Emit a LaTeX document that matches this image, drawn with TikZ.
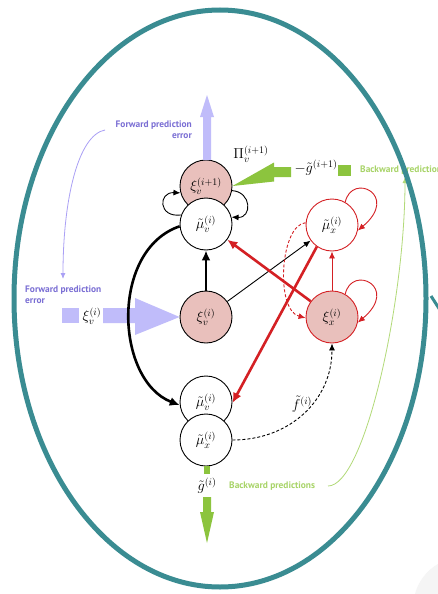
\documentclass[tikz,border=0pt]{standalone}
\usepackage{fontspec}
\newfontfamily\labfont{PT Sans}
\usetikzlibrary{arrows.meta}
\definecolor{myteal}{RGB}{58,140,146}
\definecolor{pinkc}{RGB}{233,192,188}
\definecolor{myred}{RGB}{212,32,36}
\definecolor{lav}{RGB}{192,188,250}
\definecolor{lavline}{RGB}{170,160,245}
\definecolor{purp}{RGB}{122,110,212}
\definecolor{grarrow}{RGB}{140,196,62}
\definecolor{grtext}{RGB}{168,212,104}
\definecolor{grline}{RGB}{178,218,120}
\begin{document}
\begin{tikzpicture}[x=1pt,y=-1pt,
  nd/.style={circle, draw, minimum size=52pt, inner sep=0pt, line width=0.9pt, font=\fontsize{14}{16}\selectfont},
  pinkb/.style={nd, fill=pinkc},
  whiteb/.style={nd, fill=white},
  redw/.style={nd, draw=myred, fill=white},
  redp/.style={nd, draw=myred, fill=pinkc},
  lab/.style={font=\labfont\bfseries\fontsize{9.4}{11}\selectfont, inner sep=0pt},
  mlab/.style={font=\fontsize{14}{16}\selectfont, inner sep=0pt},
  thinar/.style={-{Latex[length=7pt,width=6pt]}, line width=0.9pt},
  thickar/.style={-{Latex[length=10pt,width=9pt]}, line width=2.6pt}]
\useasboundingbox (0,0) rectangle (438,594);
\fill[white] (0,0) rectangle (438,594);
% nodes
\node[pinkb] (xv1) at (206,186) {$\xi_v^{(i+1)}$};
\node[whiteb] (mv) at (206,224) {$\tilde\mu_v^{(i)}$};
\node[redw] (mx) at (332,225) {$\tilde\mu_x^{(i)}$};
\node[pinkb] (xv) at (206,317) {$\xi_v^{(i)}$};
\node[redp] (xx) at (332,317) {$\xi_x^{(i)}$};
\node[whiteb] (mvb) at (206,402) {$\tilde\mu_v^{(i)}$};
\node[whiteb] (mxb) at (206,440) {$\tilde\mu_x^{(i)}$};
% lavender forward arrows
\fill[lav] (203,160) -- (203,117) -- (200,117) -- (207,95) -- (214,117) -- (211,117) -- (211,160) -- cycle;
\fill[lav] (62,308) rectangle (79,323);
\node[mlab] (lxv) at (92,316) {$\xi_v^{(i)}$};
\fill[lav] (103,308) -- (135,308) -- (135,298) -- (xv.west) -- (135,335) -- (135,323) -- (103,323) -- cycle;
\node[lab, text=purp, align=right, anchor=north east] (fpe1) at (192,121) {Forward prediction\\error};
\node[lab, text=purp, align=left, anchor=north west] (fpe2) at (25,286) {Forward prediction\\error};
\coordinate (fpa) at (105,130);
\coordinate (fpb) at (63,279);
\draw[lavline, line width=0.8pt, -{Latex[length=6pt,width=5pt]}] (fpa) .. controls (78,135) and (63,200) .. (fpb);
% green backward arrows
\fill[grarrow] (338,165) rectangle (351,176);
\node[mlab] (lg1) at (316,168) {$-\tilde g^{(i+1)}$};
\fill[grarrow] (291,167) -- (274,167) -- (274,162.5) -- (xv1.east) -- (274,181.5) -- (274,177) -- (291,177) -- cycle;
\node[mlab] (pi) at (251,154) {$\Pi_v^{(i+1)}$};
\node[lab, text=grtext, anchor=west] (bp1) at (360,170) {Backward prediction};
\fill[grarrow] (204,466) rectangle (210,474);
\node[mlab] (lg) at (207,486) {$\tilde g^{(i)}$};
\fill[grarrow] (203,497) -- (211,497) -- (211,512) -- (214,512) -- (207,543) -- (200,512) -- (203,512) -- cycle;
\node[lab, text=grtext, anchor=west] (bp2) at (229,486) {Backward predictions};
\coordinate (gla) at (328,486);
\coordinate (glb) at (405,177);
\draw[grline, line width=0.8pt, -{Latex[length=6pt,width=5pt]}] (gla) .. controls (365,486) and (405,300) .. (glb);
% black connections
\draw[thinar] (mv.160) .. controls (158,218) and (158,192) .. (xv1.195);
\draw[thinar] (xv1.-10) .. controls (252,192) and (252,218) .. (mv.15);
\draw[thickar] (xv) -- (mv);
\draw[thinar] (xv) -- (mx);
\draw[thickar] (mv.185) .. controls (110,250) and (115,380) .. (mvb.187);
\draw[thinar, dashed, dash pattern=on 3pt off 2pt] (mxb.0) .. controls (290,440) and (332,400) .. (xx.south);
\node[mlab] (lf) at (302,404) {$\tilde f^{(i)}$};
% red connections
\draw[thickar, myred] (xx) -- (mv);
\draw[thickar, myred] (mx.235) -- (mvb.-2);
\draw[thinar, myred] (xx) -- (mx);
\draw[thinar, myred] (mx.60) .. controls (352,172) and (400,195) .. (mx.-12);
\draw[thinar, myred] (xx.60) .. controls (352,264) and (400,287) .. (xx.-12);
\draw[thinar, myred, dash pattern=on 3pt off 2pt] (mx.175) .. controls (280,225) and (275,310) .. (xx.182);
% frame
\draw[myteal, line width=5pt] (220,298.5) ellipse [x radius=206, y radius=288.5];
\draw[myteal, line width=3pt] (431,296) -- (440,310);
\fill[black!4] (438,564) .. controls (427,570) and (418,582) .. (415,594) -- (438,594) -- cycle;
\end{tikzpicture}
\end{document}
